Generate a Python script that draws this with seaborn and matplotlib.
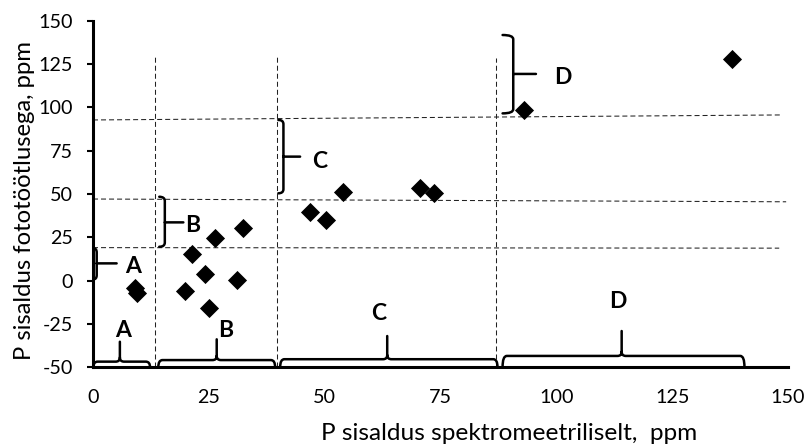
import matplotlib
matplotlib.use("Agg")
import matplotlib.pyplot as plt
from matplotlib.path import Path
from matplotlib.patches import PathPatch
import pandas as pd
import seaborn as sns

# Measured phosphorus content (ppm)
spectro_ppm = [9.0, 9.6, 19.9, 21.4, 24.2, 25.0, 26.3, 31.0, 32.3,
               46.8, 50.3, 54.0, 70.6, 73.5, 93.0, 138.0]
photo_ppm = [-4.6, -7.3, -5.9, 15.1, 3.6, -16.1, 24.7, 0.3, 30.6,
             39.4, 35.0, 51.3, 53.3, 50.4, 98.6, 127.9]

x_ticks = [0, 25, 50, 75, 100, 125, 150]
y_ticks = [-50, -25, 0, 25, 50, 75, 100, 125, 150]

# Class boundaries (dashed guide lines)
class_names = ["A", "B", "C", "D"]
v_bounds = [13.4, 39.8, 87.0]
v_top = [129.0, 129.0, 128.6]
h_left = [92.8, 47.1, 19.0]
h_right = [95.7, 45.5, 18.7]
h_end = [148.7, 149.6, 148.1]

# Braces along the x axis: start, end, tip position, baseline, tip top
xb_start = [0.1, 14.1, 40.4, 88.4]
xb_end = [12.3, 39.3, 87.3, 140.6]
xb_tip = [5.8, 26.7, 63.5, 114.1]
xb_base = [-46.9, -46.0, -45.5, -43.6]
xb_top = [-35.4, -34.0, -32.1, -29.2]
xb_lab_x = [6.4, 28.6, 61.6, 113.2]
xb_lab_y = [-32.8, -32.4, -22.9, -15.9]

# Braces along the y axis: hook end, spine, bottom, top, tip y, tip x
yb_hook = [0.1, 14.3, 40.0, 88.4]
yb_spine = [0.8, 15.5, 41.1, 90.7]
yb_bottom = [0.7, 19.5, 50.4, 96.6]
yb_top = [18.6, 48.4, 92.8, 141.9]
yb_tip = [9.9, 33.6, 71.6, 119.4]
yb_tip_x = [5.1, 19.5, 44.7, 95.6]
yb_lab_x = [8.7, 21.6, 49.0, 101.3]
yb_lab_y = [4.5, 28.2, 65.2, 113.3]

sns.set_theme(style="white")
plt.rcParams["font.family"] = ["Lato", "DejaVu Sans"]

fig = plt.figure(figsize=(8.06, 4.47), dpi=100)
ax = fig.add_axes([93 / 806, 1 - 367 / 447, 695 / 806, 346 / 447])

df = pd.DataFrame({"spectro": spectro_ppm, "photo": photo_ppm})
sns.scatterplot(data=df, x="spectro", y="photo", marker="D", color="black",
                s=95, linewidth=0, ax=ax, zorder=5)

ax.set_xlim(0, 150)
ax.set_ylim(-50, 150)
ax.set_xticks(x_ticks)
ax.set_yticks(y_ticks)
ax.set_xticklabels([str(v) for v in x_ticks])
ax.set_yticklabels([str(v) for v in y_ticks])

for side in ("top", "right"):
    ax.spines[side].set_visible(False)
for side in ("left", "bottom"):
    ax.spines[side].set_linewidth(2.2)
    ax.spines[side].set_color("black")

ax.tick_params(axis="y", direction="out", length=4.5, width=1.5, color="black",
               pad=10.0, labelsize=14.2, labelcolor="black", left=True)
ax.tick_params(axis="x", length=0, pad=16.0, labelsize=14.2, labelcolor="black")

ax.set_xlabel("P sisaldus spektromeetriliselt,  ppm", fontsize=17.6, color="black")
ax.xaxis.label.set_va("baseline")
ax.xaxis.set_label_coords(0.599, -0.211)
ax.set_ylabel("P sisaldus fototöötlusega, ppm", fontsize=17.2, color="black")
ax.yaxis.set_label_coords(-0.083, 0.481)

dash = (0, (4.8, 2.9))
for xv, yt in zip(v_bounds, v_top):
    ax.plot([xv, xv], [-50, yt], color="#222222", lw=0.75, ls=dash, zorder=2)
for yl, yr, xe in zip(h_left, h_right, h_end):
    ax.plot([0, xe], [yl, yr], color="#222222", lw=0.75, ls=dash, zorder=2)

rx, ry = 0.9, 2.4
brace_kw = dict(facecolor="none", edgecolor="black", lw=1.8, clip_on=False,
                zorder=4, capstyle="round", joinstyle="round")

C3, L, M = Path.CURVE3, Path.LINETO, Path.MOVETO
for x0, x1, xm, yb, yt in zip(xb_start, xb_end, xb_tip, xb_base, xb_top):
    verts = [(x0, -50), (x0, yb), (x0 + rx, yb), (xm - rx, yb), (xm, yb), (xm, yb + ry),
             (xm, yt),
             (x1, -50), (x1, yb), (x1 - rx, yb), (xm + rx, yb), (xm, yb), (xm, yb + ry)]
    codes = [M, C3, C3, L, C3, C3, L, M, C3, C3, L, C3, C3]
    ax.add_patch(PathPatch(Path(verts, codes), **brace_kw))

for xh, xs, y0, y1, yt, xt in zip(yb_hook, yb_spine, yb_bottom, yb_top, yb_tip, yb_tip_x):
    verts = [(xh, y1), (xs, y1), (xs, y1 - ry), (xs, yt),
             (xt, yt),
             (xh, y0), (xs, y0), (xs, y0 + ry), (xs, yt)]
    codes = [M, C3, C3, L, L, M, C3, C3, L]
    ax.add_patch(PathPatch(Path(verts, codes), **brace_kw))

for name, lx, ly in zip(class_names, xb_lab_x, xb_lab_y):
    ax.text(lx, ly, name, ha="center", va="baseline", fontsize=16.5,
            fontweight="bold", color="black", zorder=6)
for name, lx, ly in zip(class_names, yb_lab_x, yb_lab_y):
    ax.text(lx, ly, name, ha="center", va="baseline", fontsize=16.5,
            fontweight="bold", color="black", zorder=6)

fig.savefig("out.png", dpi=100)
